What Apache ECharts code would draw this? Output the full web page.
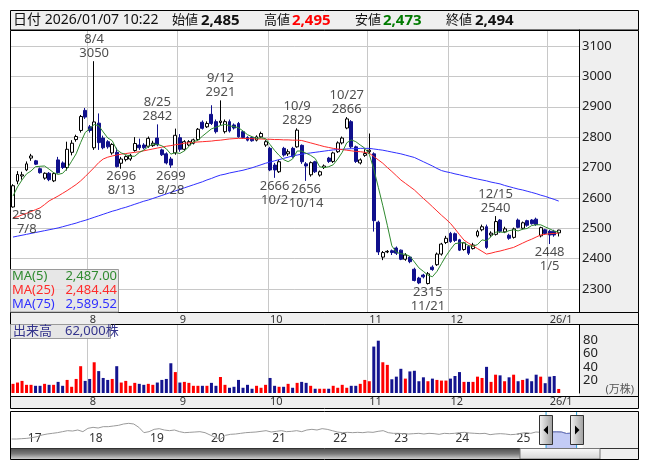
<!DOCTYPE html>
<html>
<head>
<meta charset="utf-8">
<script src="https://cdn.jsdelivr.net/npm/echarts@6/dist/echarts.min.js"></script>
<style>html,body{margin:0;padding:0;background:#fff}#c{width:653px;height:470px}</style>
</head>
<body>
<div id="c"></div>
<script>
// ---- trading days shown in the daily chart ----
const days2507 = [8,9,10,11,14,15,16,17,18,22,23,24,25,28,29,30,31];
const days2508 = [1,4,5,6,7,8,12,13,14,15,18,19,20,21,22,25,26,27,28,29];
const days2509 = [1,2,3,4,5,8,9,10,11,12,16,17,18,19,22,24,25,26,29,30];
const days2510 = [1,2,3,6,7,8,9,10,14,15,16,17,20,21,22,23,24,27,28,29,30,31];
const days2511 = [4,5,6,7,10,11,12,13,14,17,18,19,20,21,25,26,27,28];
const days2512 = [1,2,3,4,5,8,9,10,11,12,15,16,17,18,19,22,23,24,25,26,29,30];
const days2601 = [5,6,7];
const asOfTime = '10:22';

// ---- daily prices (yen) ----
const opens = [2570,2655,2672,2692,2731,2722,2696,2665,2681,2656,
 2725,2715,2700,2750,2792,2822,2888,2834,2765,2846,
 2797,2785,2748,2750,2714,2726,2728,2756,2774,2774,
 2770,2772,2797,2758,2745,2728,2748,2798,2760,2774,
 2780,2792,2849,2834,2875,2851,2848,2818,2851,2840,
 2845,2818,2799,2799,2790,2801,2774,2763,2708,2686,
 2763,2745,2763,2768,2773,2712,2676,2719,2675,2700,
 2731,2720,2752,2781,2830,2851,2768,2715,2740,2752,
 2745,2520,2405,2422,2426,2435,2428,2398,2405,2365,
 2336,2346,2318,2372,2380,2415,2453,2483,2482,2462,
 2430,2440,2433,2475,2495,2505,2478,2480,2527,2488,
 2477,2470,2527,2500,2525,2527,2530,2475,2495,2490,
 2490,2485];
const highs = [2645,2688,2686,2720,2745,2725,2700,2684,2685,2684,
 2735,2720,2785,2790,2808,2873,2896,2840,3050,2878,
 2805,2790,2780,2765,2735,2740,2745,2800,2795,2780,
 2802,2788,2842,2762,2750,2735,2828,2810,2790,2790,
 2795,2830,2855,2852,2905,2858,2921,2858,2858,2845,
 2850,2822,2803,2803,2806,2818,2790,2768,2715,2725,
 2768,2760,2768,2829,2776,2718,2720,2722,2690,2710,
 2735,2752,2786,2802,2866,2856,2772,2730,2760,2812,
 2750,2525,2425,2428,2430,2440,2430,2418,2408,2370,
 2340,2350,2356,2378,2420,2452,2475,2488,2486,2465,
 2455,2445,2452,2495,2512,2512,2490,2540,2530,2505,
 2482,2502,2532,2522,2528,2530,2535,2505,2498,2495,
 2495,2495];
const lows = [2568,2645,2660,2688,2722,2708,2680,2660,2655,2652,
 2680,2695,2690,2740,2785,2815,2860,2815,2758,2758,
 2760,2762,2742,2700,2696,2720,2722,2752,2758,2760,
 2765,2768,2770,2738,2710,2699,2742,2752,2755,2770,
 2776,2788,2825,2830,2840,2812,2840,2812,2815,2825,
 2798,2795,2786,2785,2786,2797,2768,2688,2666,2682,
 2736,2738,2732,2765,2712,2656,2670,2682,2670,2695,
 2715,2715,2748,2776,2826,2763,2715,2710,2735,2745,
 2489,2412,2395,2418,2412,2412,2395,2393,2385,2325,
 2316,2335,2315,2360,2376,2410,2448,2452,2455,2425,
 2426,2412,2430,2470,2490,2432,2472,2476,2485,2484,
 2462,2466,2500,2496,2505,2512,2508,2470,2478,2448,
 2472,2473];
const closes = [2640,2677,2676,2712,2738,2711,2683,2681,2660,2680,
 2683,2700,2760,2780,2802,2868,2866,2822,2850,2782,
 2765,2768,2776,2703,2728,2736,2740,2779,2765,2765,
 2796,2780,2775,2742,2715,2708,2806,2760,2785,2785,
 2791,2826,2829,2845,2845,2818,2853,2851,2820,2830,
 2801,2799,2790,2788,2801,2812,2785,2692,2692,2719,
 2741,2752,2736,2823,2719,2705,2716,2686,2686,2705,
 2720,2748,2781,2797,2860,2768,2720,2725,2746,2757,
 2525,2422,2420,2424,2420,2418,2398,2412,2390,2328,
 2320,2340,2350,2364,2415,2448,2467,2456,2460,2428,
 2452,2418,2445,2489,2505,2437,2484,2522,2490,2498,
 2467,2498,2503,2518,2510,2515,2512,2502,2483,2478,
 2478,2494];

// ---- volume (10,000 shares) ----
const volumes = [14,16,18.5,12.5,12.5,11,11,14,12.5,12.5,
 17,11,20,9.5,21.5,41,18.5,21.5,47,33.5,
 23,20,21.5,41,16,18.5,11,15.5,14,12.5,
 14,12.5,16,20,21.5,45.5,32,16,17,15.5,
 11,11,11,11,15.5,11,24.5,12.5,8,9.5,
 20,8,12.5,6.5,11,8,12.5,23,11,9.5,
 9.5,14,8,15.5,17,15.5,11,6.5,6.5,6.5,
 6.5,11,8,12.5,8,11,11,14,20,18,
 71,80,47,43,21,25,37,22,33,34,
 18,24,18,22,20,19,19,22,26,32,
 17,17,17,25,23,40,17,28,27,18,
 24,28,18,20,22,18,28,25,15,25,
 26,6.2];

// ---- moving averages ----
const ma5Head = [2606,2636,2659,2679]; // 5-day average before five closes are on screen
const ma25 = [2534,2538,2544,2549,2555,2561,2567,2578,2590,2598,
 2606,2615,2624,2634,2644,2656,2670,2685,2700,2716,
 2728,2734,2738,2741,2744,2746,2748,2750,2752,2755,
 2758,2761,2764,2767,2770,2772,2775,2777,2780,2781,
 2783,2784,2785,2786,2787,2789,2790,2792,2794,2795,
 2796,2796,2795,2795,2794,2794,2793,2793,2792,2792,
 2791,2791,2790,2790,2789,2785,2781,2777,2773,2769,
 2766,2763,2761,2759,2757,2755,2753,2752,2750,2747,
 2736,2725,2714,2700,2687,2673,2659,2648,2637,2626,
 2612,2598,2585,2571,2557,2543,2530,2516,2498,2479,
 2461,2451,2442,2433,2424,2415,2418,2422,2425,2429,
 2433,2437,2444,2451,2458,2464,2471,2478,2480,2482,
 2483,2484.44];
const ma75 = [2471,2474,2477,2480,2483,2486,2489,2492,2495,2498,
 2501,2505,2509,2513,2517,2522,2526,2531,2536,2541,
 2546,2551,2556,2560,2565,2569,2574,2579,2584,2589,
 2593,2598,2603,2608,2613,2618,2623,2628,2633,2638,
 2643,2648,2653,2659,2664,2670,2675,2678,2682,2685,
 2688,2691,2695,2699,2704,2709,2714,2718,2722,2726,
 2730,2734,2738,2741,2744,2746,2748,2750,2752,2754,
 2756,2758,2759,2760,2761,2762,2762,2763,2763,2763,
 2761,2759,2757,2754,2751,2748,2745,2741,2737,2733,
 2726,2719,2712,2705,2697,2690,2686,2683,2679,2676,
 2672,2669,2665,2662,2659,2656,2652,2649,2646,2641,
 2637,2633,2629,2626,2622,2618,2614,2609,2605,2600,
 2595,2589.52];

// ---- high / low callouts ----
const highMarks = ['2025/08/04','2025/08/25','2025/09/12','2025/10/09','2025/10/27','2025/12/15'];
const lowMarks = ['2025/07/08','2025/08/13','2025/08/28','2025/10/02','2025/10/14','2025/11/21','2026/01/05'];

// ---- long-term monthly prices for the navigator (from 2016/10) ----
const navStart = [2016, 10];
const navValues = [890,890,980,
 1070,1250,1520,1970,2240,2420,2600,2870,3140,3050,3320,2870,
 3770,4040,3860,4220,4220,4400,4580,4940,5120,4940,4040,2600,
 2870,3500,3680,3320,3140,3320,2870,2600,2690,2780,2870,2600,
 1970,1340,800,1880,2150,2240,2420,2600,2690,2780,2960,3140,
 2780,2960,3140,2870,2960,3140,2870,3320,3500,3320,3680,3500,
 3140,2780,2600,2690,2600,2690,2600,2780,2690,2960,3140,2600,
 2420,2420,2330,2240,2330,2420,2240,2420,2330,2150,2420,2330,
 2420,2600,2690,2510,2420,2330,2420,2060,2240,2330,2240,2060,
 2150,2420,2600,2420,2780,2690,2640,2800,2830,2790,2380,2480,
 2494];

// ---------------------------------------------------------------
const pad2 = n => String(n).padStart(2, '0');
const dayTable = [['2025/07',days2507],['2025/08',days2508],['2025/09',days2509],
  ['2025/10',days2510],['2025/11',days2511],['2025/12',days2512],['2026/01',days2601]];
const dates = [];
dayTable.forEach(([ym, ds]) => ds.forEach(d => dates.push(ym + '/' + pad2(d))));
const SPARE = 4; // empty slots right of the last session
const cats = dates.concat(new Array(SPARE).fill(''));

const ma5 = closes.map((c, i) => {
  if (i < 4) return ma5Head[i];
  let s = 0; for (let k = i - 4; k <= i; k++) s += closes[k];
  return +(s / 5).toFixed(2);
});

const navMonths = navValues.map((_, k) => {
  const t = navStart[0] * 12 + navStart[1] - 1 + k;
  return Math.floor(t / 12) + '/' + pad2(t % 12 + 1);
});

const FONT = "'Noto Sans','Noto Sans CJK JP',sans-serif";
const UP_LINE = '#000000', UP_FILL = '#ffffff', DOWN = '#10108c';
const VOL_UP = '#ff0000', VOL_DOWN = '#14148f';
const C_MA5 = '#2f8a2f', C_MA25 = '#ff2b2b', C_MA75 = '#3030ff';
const GRID_LINE = '#c8c8c8';

// layout
const FL = 10.5, FR = 638.5, AX = 579;
const PLOT_L = 10.75, PLOT_W = AX - PLOT_L;
const BAND = PLOT_W / cats.length;
const MAIN_T = 30, MAIN_B = 312, VOL_T = 324, VOL_B = 396, NAV_T = 411, NAV_B = 459;
const NAV_L = 11.6, NAV_W = 565;
const NAV_STEP = NAV_W / (navValues.length - 1);

const isMonthStart = i => i > 0 && i < dates.length && dates[i].slice(0, 7) !== dates[i - 1].slice(0, 7);
const firstYear = dates[0].slice(0, 4);
const monthLabel = (v, i) => {
  const d = dates[i]; if (!d) return '';
  const y = d.slice(0, 4), m = +d.slice(5, 7);
  return y === firstYear ? String(m) : y.slice(2) + '/' + m;
};
const md = d => (+d.slice(5, 7)) + '/' + (+d.slice(8, 10));
const comma = n => Math.round(n).toLocaleString('en-US');
const fix2 = n => n.toLocaleString('en-US', {minimumFractionDigits: 2, maximumFractionDigits: 2});

// callout points
const markData = [];
highMarks.forEach(d => {
  const i = dates.indexOf(d);
  markData.push({ value: [i, highs[i]], label: { position: 'top', formatter: md(d) + '\n' + highs[i] } });
});
lowMarks.forEach(d => {
  const i = dates.indexOf(d);
  const cx = PLOT_L + (i + 0.5) * BAND;
  const dx = Math.max(0, PLOT_L + 16 - cx);
  markData.push({ value: [i, lows[i]], label: { position: 'bottom', offset: [dx, 0], formatter: lows[i] + '\n' + md(d) } });
});

const last = dates.length - 1;
const selStart = navMonths.indexOf(dates[0].slice(0, 7));
const selEnd = navValues.length - 1;
const xs = NAV_L + selStart * NAV_STEP, xe = NAV_L + selEnd * NAV_STEP;

const txt = (x, y, text, opt = {}) => ({
  type: 'text', x, y, z: opt.z || 60, silent: true,
  style: { text, fill: opt.fill || '#111', font: opt.font || ('13px ' + FONT),
    textAlign: opt.align || 'left', textVerticalAlign: 'middle' }
});
const rect = (x, y, w, h, fill, stroke, z) => ({
  type: 'rect', z, silent: true, shape: { x, y, width: w, height: h },
  style: { fill: fill || 'none', stroke: stroke || 'none', lineWidth: 1 }
});
const hline = (x1, x2, y, z, color) => ({ type: 'line', z, silent: true, shape: { x1, y1: y, x2, y2: y }, style: { stroke: color || '#000', lineWidth: 1 } });
const vline = (x, y1, y2, z, color) => ({ type: 'line', z, silent: true, shape: { x1: x, y1, x2: x, y2 }, style: { stroke: color || '#000', lineWidth: 1 } });

const GREY = '#efefef';
const graphics = [
  // panel backgrounds
  rect(FL, 10.5, FR - FL, 19.5, GREY, null, -5),
  rect(AX, MAIN_T, FR - AX, MAIN_B - MAIN_T, GREY, null, -5),
  rect(FL, MAIN_B, FR - FL, VOL_T - MAIN_B, GREY, null, -5),
  rect(AX, VOL_T, FR - AX, VOL_B - VOL_T, GREY, null, -5),
  rect(FL, VOL_B, FR - FL, 12, GREY, null, -5),
  rect(xe + 6, NAV_T, FR - xe - 6, NAV_B - NAV_T, GREY, null, -5),
  // frames
  rect(FL, 10.5, FR - FL, 19.5, null, '#000', 50),
  rect(FL, MAIN_T + 0.5, FR - FL, MAIN_B - MAIN_T, null, '#000', 50),
  rect(FL, MAIN_B + 0.5, FR - FL, VOL_T - MAIN_B, null, '#000', 50),
  rect(FL, VOL_T + 0.5, FR - FL, VOL_B - VOL_T, null, '#000', 50),
  rect(FL, VOL_B + 0.5, FR - FL, 12, null, '#000', 50),
  rect(FL, NAV_T + 0.5, FR - FL, NAV_B - NAV_T, null, '#000', 50),
  // header
  txt(13, 20.5, '日付 ' + dates[last] + ' ' + asOfTime, { font: '14px ' + FONT }),
  txt(172, 20.5, '始値', { font: '13px ' + FONT }),
  txt(201, 20.5, comma(opens[last]), { font: 'bold 15px ' + FONT }),
  txt(264, 20.5, '高値', { font: '13px ' + FONT }),
  txt(292, 20.5, comma(highs[last]), { font: 'bold 15px ' + FONT, fill: '#ff0000' }),
  txt(355, 20.5, '安値', { font: '13px ' + FONT }),
  txt(383, 20.5, comma(lows[last]), { font: 'bold 15px ' + FONT, fill: '#007a00' }),
  txt(446, 20.5, '終値', { font: '13px ' + FONT }),
  txt(475, 20.5, comma(closes[last]), { font: 'bold 15px ' + FONT }),
  // moving-average legend
  rect(FL, 269.5, 108, 42.5, 'rgba(228,228,228,0.88)', '#9a9a9a', 55),
  txt(12, 276, 'MA(5)', { fill: C_MA5 }),
  txt(117, 276, fix2(ma5[last]), { fill: C_MA5, align: 'right' }),
  txt(12, 290, 'MA(25)', { fill: C_MA25 }),
  txt(117, 290, fix2(ma25[last]), { fill: C_MA25, align: 'right' }),
  txt(12, 304, 'MA(75)', { fill: C_MA75 }),
  txt(117, 304, fix2(ma75[last]), { fill: C_MA75, align: 'right' }),
  // volume caption
  rect(FL, VOL_T + 0.5, 100, 14, '#e6e6e6', '#9a9a9a', 55),
  txt(13, VOL_T + 7.5, '出来高　' + comma(volumes[last] * 10000) + '株', { fill: '#34348c' }),
  txt(634, 390, '(万株)', { fill: '#555', align: 'right', font: '11px ' + FONT }),
  // navigator selection edges
  vline(xs, NAV_T + 1, 448, 45, '#2aa0d8'),
  vline(xe, NAV_T + 1, 448, 45, '#2aa0d8'),
  // scrollbar
  { type: 'rect', z: 46, silent: true, shape: { x: FL + 0.5, y: 448.5, width: 509, height: 10.5 },
    style: { fill: { type: 'linear', x: 0, y: 0, x2: 0, y2: 1, colorStops: [{ offset: 0, color: '#505050' }, { offset: 0.5, color: '#7a7a7a' }, { offset: 1, color: '#d0d0d0' }] } } },
  { type: 'rect', z: 47, silent: true, shape: { x: 520, y: 448.5, width: 80, height: 10.5 },
    style: { fill: { type: 'linear', x: 0, y: 0, x2: 0, y2: 1, colorStops: [{ offset: 0, color: '#fbfbfb' }, { offset: 1, color: '#d4d4d4' }] }, stroke: '#777', lineWidth: 1 } },
  hline(FL, FR, 448.5, 46, '#333'),
];
// navigator handles
[[xs, -1], [xe, 1]].forEach(([x, dir]) => {
  graphics.push({ type: 'rect', z: 48, silent: true, shape: { x: Math.round(x) - 6.5, y: 415.5, width: 13, height: 29 },
    style: { fill: { type: 'linear', x: 0, y: 0, x2: 1, y2: 0, colorStops: [{ offset: 0, color: '#f6f6f6' }, { offset: 1, color: '#9c9c9c' }] }, stroke: '#333', lineWidth: 1 } });
  const cx = Math.round(x);
  graphics.push({ type: 'polygon', z: 49, silent: true,
    shape: { points: [[cx + 2.5 * dir, 430], [cx - 2 * dir, 425.5], [cx - 2 * dir, 434.5]] }, style: { fill: '#000' } });
});

const chart = echarts.init(document.getElementById('c'));
chart.setOption({
  animation: false,
  backgroundColor: '#fff',
  textStyle: { fontFamily: FONT },
  grid: [
    { left: PLOT_L, top: MAIN_T, width: PLOT_W, height: MAIN_B - MAIN_T, containLabel: false, outerBoundsMode: 'none' },
    { left: PLOT_L, top: VOL_T + 1, width: PLOT_W, height: 68, containLabel: false, outerBoundsMode: 'none' },
    { left: NAV_L, top: NAV_T, width: NAV_W, height: 37, containLabel: false, outerBoundsMode: 'none' }
  ],
  xAxis: [
    { type: 'category', gridIndex: 0, data: cats, boundaryGap: true,
      axisLine: { show: false }, axisTick: { show: false },
      axisLabel: { interval: isMonthStart, formatter: monthLabel, align: 'left', margin: 2, fontSize: 11, color: '#333', fontFamily: FONT },
      splitLine: { show: true, interval: isMonthStart, lineStyle: { color: GRID_LINE, width: 1 } } },
    { type: 'category', gridIndex: 1, data: cats, boundaryGap: true,
      axisLine: { show: false }, axisTick: { show: false },
      axisLabel: { interval: isMonthStart, formatter: monthLabel, align: 'left', margin: 3, fontSize: 11, color: '#333', fontFamily: FONT },
      splitLine: { show: true, interval: isMonthStart, lineStyle: { color: GRID_LINE, width: 1 } } },
    { type: 'category', gridIndex: 2, data: navMonths, boundaryGap: false,
      axisLine: { show: false }, axisTick: { show: false }, splitLine: { show: false },
      axisLabel: { interval: i => i < selStart && navMonths[i].endsWith('/01'), formatter: v => v.slice(2, 4), inside: true,
        align: 'left', margin: 3, fontSize: 12, color: '#333', backgroundColor: '#fff', padding: [0, 1, 0, 1], fontFamily: FONT } }
  ],
  yAxis: [
    { type: 'value', gridIndex: 0, position: 'right', min: 2224.3, max: 3152.7, splitNumber: 9, minInterval: 100, maxInterval: 100,
      axisLine: { show: true, lineStyle: { color: '#000' } }, axisTick: { show: false },
      axisLabel: { margin: 3, fontSize: 13, color: '#222', fontFamily: FONT, showMinLabel: false, showMaxLabel: false,
        formatter: v => (v % 100 === 0 ? String(v) : '') },
      splitLine: { show: true, lineStyle: { color: GRID_LINE } } },
    { type: 'value', gridIndex: 1, position: 'right', min: 0, max: 104, interval: 20,
      axisLine: { show: true, lineStyle: { color: '#000' } }, axisTick: { show: false },
      axisLabel: { margin: 4, fontSize: 13, color: '#222', fontFamily: FONT,
        formatter: v => (v > 0 && v < 100 ? String(v) : '') },
      splitLine: { show: false } },
    { type: 'value', gridIndex: 2, min: -1540, max: 8450, show: false }
  ],
  series: [
    { type: 'candlestick', xAxisIndex: 0, yAxisIndex: 0, barWidth: 3.4,
      data: dates.map((d, i) => [opens[i], closes[i], lows[i], highs[i]]),
      itemStyle: { color: UP_FILL, color0: DOWN, borderColor: UP_LINE, borderColor0: DOWN, borderWidth: 1 },
      emphasis: { disabled: true } },
    { type: 'line', name: 'MA75', xAxisIndex: 0, yAxisIndex: 0, data: ma75, symbol: 'none', z: 3,
      lineStyle: { color: C_MA75, width: 1 }, emphasis: { disabled: true } },
    { type: 'line', name: 'MA25', xAxisIndex: 0, yAxisIndex: 0, data: ma25, symbol: 'none', z: 3,
      lineStyle: { color: C_MA25, width: 1 }, emphasis: { disabled: true } },
    { type: 'line', name: 'MA5', xAxisIndex: 0, yAxisIndex: 0, data: ma5, symbol: 'none', z: 4,
      lineStyle: { color: C_MA5, width: 1 }, emphasis: { disabled: true } },
    { type: 'scatter', xAxisIndex: 0, yAxisIndex: 0, data: markData, symbolSize: 0.1, z: 5,
      itemStyle: { color: 'rgba(0,0,0,0)' },
      label: { show: true, distance: 1, fontSize: 13, lineHeight: 14, color: '#222', fontFamily: FONT, align: 'center' },
      emphasis: { disabled: true } },
    { type: 'bar', xAxisIndex: 1, yAxisIndex: 1, barWidth: 3,
      data: volumes.map((v, i) => ({ value: v, itemStyle: { color: closes[i] >= opens[i] ? VOL_UP : VOL_DOWN } })),
      emphasis: { disabled: true } },
    { type: 'line', xAxisIndex: 2, yAxisIndex: 2, data: navValues, symbol: 'none',
      lineStyle: { color: '#9a9a9a', width: 1 }, emphasis: { disabled: true } },
    { type: 'line', xAxisIndex: 2, yAxisIndex: 2, symbol: 'none', z: 3,
      data: navValues.map((v, i) => (i >= selStart ? v : null)),
      lineStyle: { color: '#6674c8', width: 1 }, areaStyle: { color: '#c3cbf5', opacity: 1, origin: 'start' },
      emphasis: { disabled: true } }
  ],
  graphic: { elements: graphics }
});
</script>
</body>
</html>
